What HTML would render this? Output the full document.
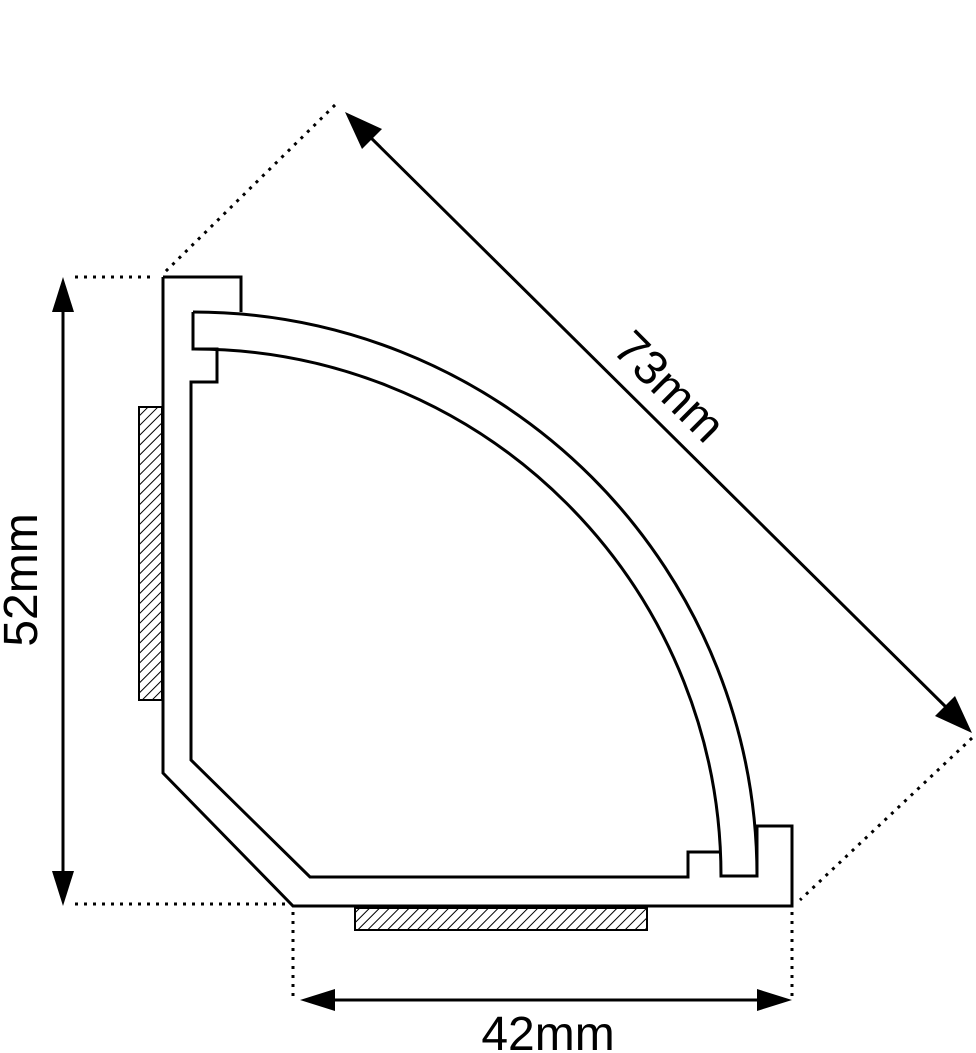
<!DOCTYPE html>
<html><head><meta charset="utf-8"><style>
html,body{margin:0;padding:0;background:#fff;}
svg{display:block;}
text{font-family:"Liberation Sans",sans-serif;font-size:48px;fill:#000;}
</style></head><body>
<svg width="976" height="1053" viewBox="0 0 976 1053" xmlns="http://www.w3.org/2000/svg">
<defs>
<pattern id="h" patternUnits="userSpaceOnUse" width="7" height="7" patternTransform="rotate(45)">
<line x1="0" y1="0" x2="0" y2="7" stroke="#000" stroke-width="2"/>
</pattern>
</defs>
<g fill="none" stroke="#000" stroke-width="3" stroke-linejoin="miter">
<path d="M163,277 H241 V312 M193,312 V349 H217 V382 H191 V760 L310,877 H688 V852 H721 M757,876 V826 H792 V906 H293 L163,773 V277"/>
<path d="M193,312 A564,564 0 0 1 757,876 H721 A527,527 0 0 0 193,349"/>
</g>
<rect x="139" y="407" width="23" height="293" fill="url(#h)" stroke="#000" stroke-width="2"/>
<rect x="355" y="908" width="292" height="22" fill="url(#h)" stroke="#000" stroke-width="2"/>
<g stroke="#000" stroke-width="3" stroke-dasharray="3,6" fill="none">
<line x1="75" y1="277" x2="155" y2="277"/>
<line x1="75" y1="904" x2="290" y2="904"/>
<line x1="293" y1="912" x2="293" y2="1000"/>
<line x1="792" y1="912" x2="792" y2="1000"/>
<line x1="335" y1="105" x2="165" y2="272"/>
<line x1="972" y1="738" x2="800" y2="900"/>
</g>
<g stroke="#000" stroke-width="3">
<line x1="63" y1="300" x2="63" y2="884"/>
<line x1="322" y1="1000" x2="770" y2="1000"/>
<line x1="362" y1="129" x2="955" y2="716"/>
</g>
<g fill="#000">
<polygon points="63,277 52,312 74,312"/>
<polygon points="63,906 52,871 74,871"/>
<polygon points="300,1000 335,989 335,1011"/>
<polygon points="792,1000 757,989 757,1011"/>
<polygon points="345,112 382,129 362,149"/>
<polygon points="972,733 935,716 955,696"/>
</g>
<text x="548" y="1050" text-anchor="middle">42mm</text>
<text transform="translate(37,580) rotate(-90)" text-anchor="middle">52mm</text>
<text transform="translate(658,398) rotate(45)" text-anchor="middle">73mm</text>
</svg>
</body></html>
